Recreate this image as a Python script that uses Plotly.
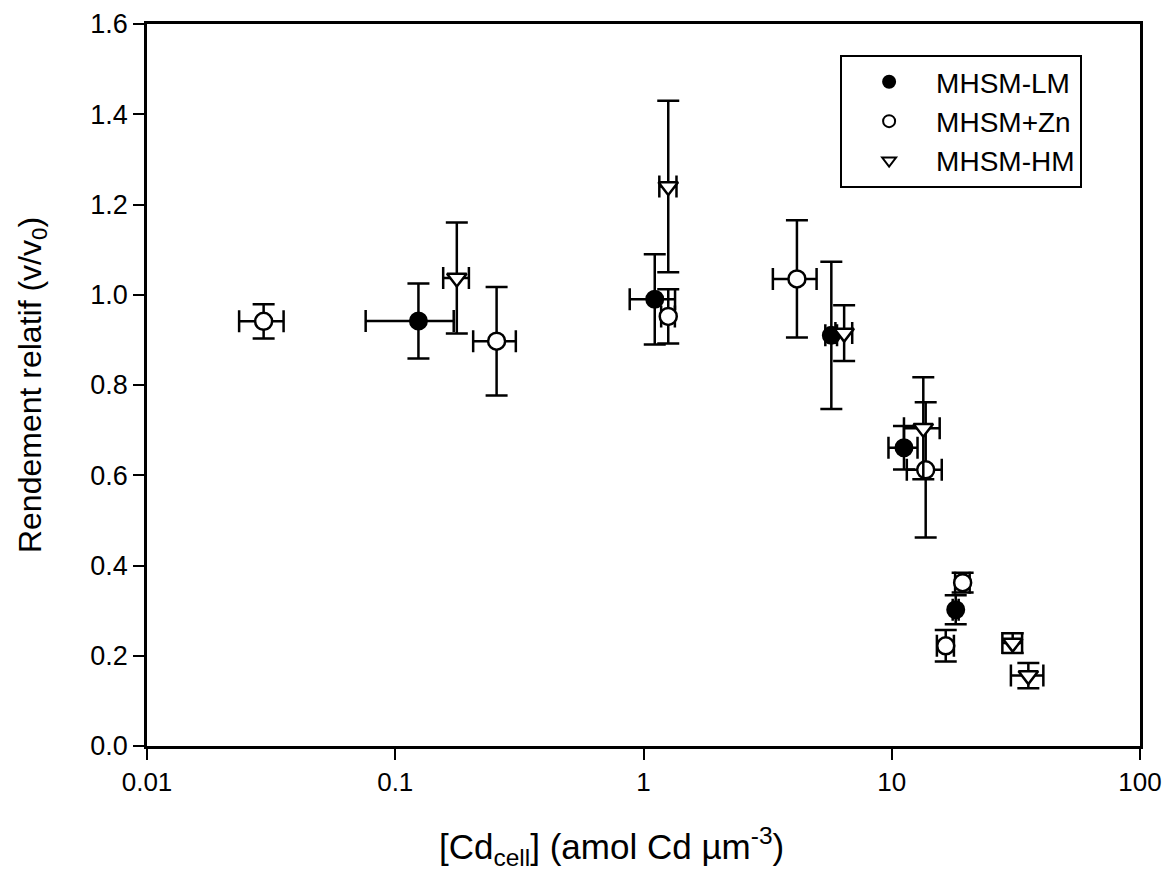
import plotly.graph_objects as go

# MHSM-LM (filled circles)
lm_x = [0.124, 1.11, 5.71, 11.2, 18.1]
lm_xerr = [0.048, 0.23, 0.31, 1.5, 0.5]
lm_y = [0.942, 0.99, 0.91, 0.661, 0.302]
lm_yerr = [0.083, 0.10, 0.163, 0.048, 0.032]

# MHSM+Zn (open circles)
zn_x = [0.0295, 0.256, 1.258, 4.15, 13.7, 19.3, 16.5]
zn_xerr = [0.006, 0.05, 0.08, 0.83, 2.2, 1.3, 1.3]
zn_y = [0.941, 0.897, 0.952, 1.035, 0.612, 0.362, 0.222]
zn_yerr = [0.038, 0.12, 0.06, 0.13, 0.15, 0.022, 0.035]

# MHSM-HM (open down-triangles)
hm_x = [0.177, 1.258, 6.43, 13.4, 30.7, 35.5]
hm_xerr = [0.021, 0.1, 0.5, 2.2, 2.8, 5.3]
hm_y = [1.037, 1.24, 0.915, 0.704, 0.228, 0.156]
hm_yerr = [0.123, 0.19, 0.062, 0.113, 0.022, 0.028]

x_ticks = [0.01, 0.1, 1, 10, 100]
x_ticktext = ["0.01", "0.1", "1", "10", "100"]
y_ticks = [0.0, 0.2, 0.4, 0.6, 0.8, 1.0, 1.2, 1.4, 1.6]

x_title = "[Cd<sub>cell</sub>] (amol Cd µm<sup>-3</sup>)"
y_title = "Rendement relatif (v/v<sub>0</sub>)"

FONT = "Arial, Liberation Sans, sans-serif"


def err(arr):
    return dict(type="data", array=arr, visible=True, color="black",
                thickness=2.5, width=11)


fig = go.Figure()
fig.add_trace(go.Scatter(
    x=lm_x, y=lm_y, mode="markers", name="MHSM-LM",
    error_x=err(lm_xerr), error_y=err(lm_yerr),
    marker=dict(symbol="circle", size=17, color="black",
                line=dict(color="black", width=2)),
))
fig.add_trace(go.Scatter(
    x=zn_x, y=zn_y, mode="markers", name="MHSM+Zn",
    error_x=err(zn_xerr), error_y=err(zn_yerr),
    marker=dict(symbol="circle", size=17, color="white",
                line=dict(color="black", width=2.5)),
))
fig.add_trace(go.Scatter(
    x=hm_x, y=hm_y, mode="markers", name="MHSM-HM",
    error_x=err(hm_xerr), error_y=err(hm_yerr),
    marker=dict(symbol="triangle-down", size=17, color="white",
                line=dict(color="black", width=2.5)),
))

# x-axis title placed as a paper annotation under the tick labels
fig.add_annotation(
    text=x_title, xref="paper", yref="paper",
    x=0.468, y=-0.139, xanchor="center", yanchor="middle",
    showarrow=False, font=dict(size=35, family=FONT, color="black"),
)

fig.update_layout(
    width=1163, height=880,
    margin=dict(l=147, r=23, t=24, b=134, autoexpand=False),
    paper_bgcolor="white", plot_bgcolor="white",
    font=dict(family=FONT, color="black"),
    showlegend=True,
    legend=dict(
        x=0.698, y=0.957, xanchor="left", yanchor="top",
        bordercolor="black", borderwidth=2, bgcolor="white",
        font=dict(size=28, family=FONT),
        itemsizing="constant",
        itemwidth=84,
        tracegroupgap=0,
    ),
    xaxis=dict(
        type="log", range=[-2, 2],
        tickvals=x_ticks, ticktext=x_ticktext,
        ticks="outside", ticklen=11, tickwidth=2, tickcolor="black",
        showline=True, linecolor="black", linewidth=2.5, mirror=True,
        showgrid=False, zeroline=False,
        tickfont=dict(size=26, family=FONT),
    ),
    yaxis=dict(
        range=[0, 1.6],
        tickvals=y_ticks, tickformat=".1f",
        ticks="outside", ticklen=11, tickwidth=2, tickcolor="black",
        showline=True, linecolor="black", linewidth=2.5, mirror=True,
        showgrid=False, zeroline=False,
        tickfont=dict(size=27, family=FONT),
        title=dict(text=y_title, font=dict(size=32, family=FONT),
                   standoff=40),
    ),
)

fig.write_html("out.html")
